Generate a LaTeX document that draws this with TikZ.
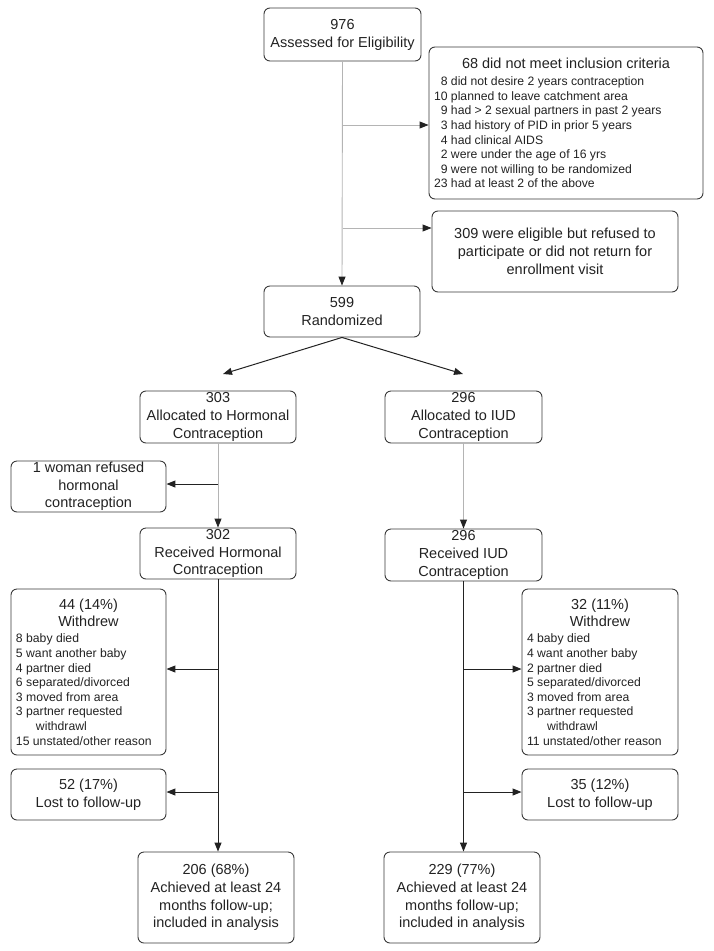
\documentclass[tikz,border=0pt]{standalone}
\usepackage{fontspec}
\setmainfont{Liberation Sans}
\usetikzlibrary{arrows.meta}
\definecolor{boxc}{HTML}{3A3A3A}
\definecolor{lgray}{HTML}{B4B4B4}
\definecolor{dk}{HTML}{222222}
\newcommand\nn[1]{\makebox[13.6pt][r]{#1}\ }
\newcommand\listfont{\fontsize{12.2}{14.6}\selectfont}
\begin{document}
\begin{tikzpicture}[x=1pt,y=-1pt,
  box/.style={draw=boxc, line width=0.9pt, rounded corners=6pt, align=center,
    inner sep=0pt, text=dk, font=\fontsize{14.5}{17.6}\selectfont},
  gline/.style={draw=lgray, line width=0.9pt},
  bline/.style={draw=dk, line width=1pt},
  tip/.style={-{Triangle[length=9pt,width=7pt,color=dk]}}]
\useasboundingbox (0,0) rectangle (713,951);

% top section
\node[box, minimum width=157pt, minimum height=53pt, font=\fontsize{14.5}{18}\selectfont] (b1) at (342.5,34.5)
  {976\\Assessed for Eligibility};
\node[box, minimum width=274pt, minimum height=152pt] (b2) at (566,123)
  {\begin{minipage}{264pt}\centering 68 did not meet inclusion criteria\par\vspace{2.5pt}\raggedright\listfont
  \nn{8}did not desire 2 years contraception\\
  \nn{10}planned to leave catchment area\\
  \nn{9}had > 2 sexual partners in past 2 years\\
  \nn{3}had history of PID in prior 5 years\\
  \nn{4}had clinical AIDS\\
  \nn{2}were under the age of 16 yrs\\
  \nn{9}were not willing to be randomized\\
  \nn{23}had at least 2 of the above\par\end{minipage}};
\node[box, minimum width=246pt, minimum height=81pt, font=\fontsize{14.5}{18}\selectfont] (b3) at (555,251.5)
  {309 were eligible but refused to\\participate or did not return for\\enrollment visit};
\node[box, minimum width=156pt, minimum height=51pt, font=\fontsize{14.5}{18}\selectfont] (b4) at (342,311.5)
  {599\\Randomized};

% allocation
\node[box, minimum width=156pt, minimum height=52pt] (h1) at (218,417)
  {303\\Allocated to Hormonal\\Contraception};
\node[box, minimum width=157pt, minimum height=52pt] (i1) at (463.5,417)
  {296\\Allocated to IUD\\Contraception};
\node[box, minimum width=155pt, minimum height=51pt] (ref) at (88.5,486.5)
  {1 woman refused\\hormonal\\contraception};
\node[box, minimum width=156pt, minimum height=51pt] (h2) at (218,553.5)
  {302\\Received Hormonal\\Contraception};
\node[box, minimum width=157pt, minimum height=52pt] (i2) at (463.5,555)
  {296\\Received IUD\\Contraception};

% follow-up
\node[box, minimum width=155pt, minimum height=166pt] (hw) at (88.5,672)
  {\begin{minipage}{145pt}\centering 44 (14\%)\\Withdrew\par\vspace{1.4pt}\raggedright\listfont
  8 baby died\\
  5 want another baby\\
  4 partner died\\
  6 separated/divorced\\
  3 moved from area\\
  3 partner requested\\
  \hspace*{20pt}withdrawl\\
  15 unstated/other reason\par\end{minipage}};
\node[box, minimum width=156pt, minimum height=166pt] (iw) at (600,672)
  {\begin{minipage}{146pt}\centering 32 (11\%)\\Withdrew\par\vspace{1.4pt}\raggedright\listfont
  4 baby died\\
  4 want another baby\\
  2 partner died\\
  5 separated/divorced\\
  3 moved from area\\
  3 partner requested\\
  \hspace*{20pt}withdrawl\\
  11 unstated/other reason\par\end{minipage}};
\node[box, minimum width=155pt, minimum height=51pt] (hl) at (88.5,794.5)
  {52 (17\%)\\Lost to follow-up};
\node[box, minimum width=156pt, minimum height=51pt] (il) at (600,794.5)
  {35 (12\%)\\Lost to follow-up};
\node[box, minimum width=156pt, minimum height=91pt] (hf) at (216,897.5)
  {206 (68\%)\\Achieved at least 24\\months follow-up;\\included in analysis};
\node[box, minimum width=156pt, minimum height=91pt] (if) at (462,897.5)
  {229 (77\%)\\Achieved at least 24\\months follow-up;\\included in analysis};

% connectors: top
\draw[gline, tip] (b1.south) -- (b4.north);
\coordinate (j1) at (b1.south |- 0,125);
\coordinate (j2) at (b1.south |- 0,228);
\draw[gline, tip] (j1) -- (j1 -| b2.west);
\draw[gline, tip] (j2) -- (j2 -| b3.west);

\coordinate (tl) at (223,374);
\coordinate (tr) at (463,374);
\draw[bline, tip] (b4.south) -- (tl);
\draw[bline, tip] (b4.south) -- (tr);

% allocation to received
\draw[gline, tip] (h1.south) -- (h2.north);
\draw[gline, tip] (i1.south) -- (i2.north);
\coordinate (j3) at (h1.south |- 0,484);
\draw[bline, tip] (j3) -- (j3 -| ref.east);

% follow-up left
\coordinate (hb) at (h2.south |- hf.north);
\draw[bline, tip] (h2.south) -- (hb);
\coordinate (j4) at (h2.south |- 0,669);
\coordinate (j5) at (h2.south |- 0,792);
\draw[bline, tip] (j4) -- (j4 -| hw.east);
\draw[bline, tip] (j5) -- (j5 -| hl.east);

% follow-up right
\coordinate (ib) at (i2.south |- if.north);
\draw[bline, tip] (i2.south) -- (ib);
\coordinate (j6) at (i2.south |- 0,669);
\coordinate (j7) at (i2.south |- 0,792);
\draw[bline, tip] (j6) -- (j6 -| iw.west);
\draw[bline, tip] (j7) -- (j7 -| il.west);
\end{tikzpicture}
\end{document}
